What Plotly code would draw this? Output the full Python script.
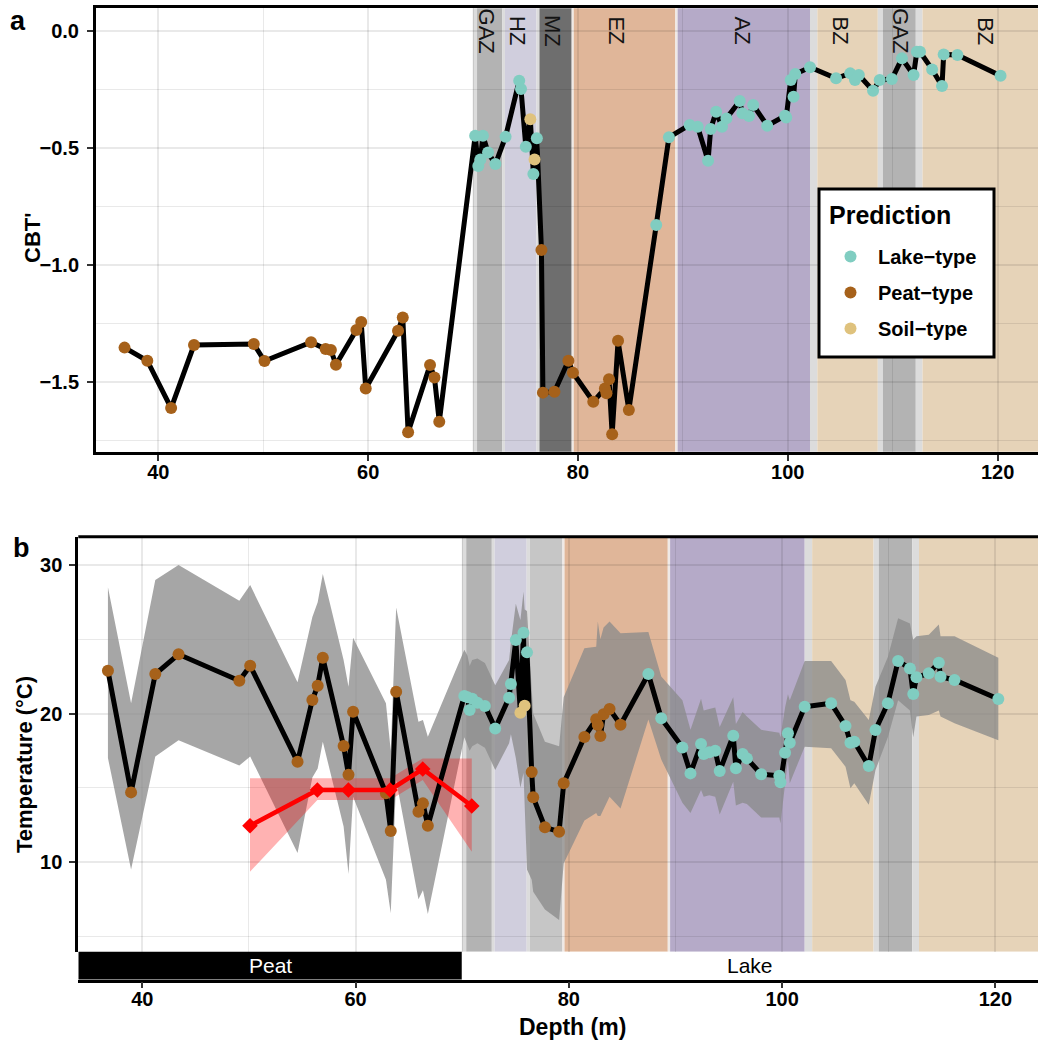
import plotly.graph_objects as go

# ---------------- data ----------------
depth = [36.78, 38.95, 41.22, 43.40, 49.10, 50.12, 54.56, 55.95, 56.45, 56.93,
         58.88, 59.34, 59.77, 62.85, 63.30, 63.81, 65.90, 66.32, 66.78,
         70.20, 70.50, 70.70, 70.94, 71.43, 72.13, 73.10, 74.40, 74.57, 75.03,
         75.46, 75.75, 75.86, 76.08, 76.52, 76.66, 77.76, 79.09, 79.52, 81.46,
         82.57, 82.72, 82.96, 83.26, 83.82, 84.85,
         87.46, 88.67, 90.65, 91.41, 92.40, 92.65, 93.17, 93.73, 94.15, 95.42,
         95.67, 96.30, 96.70, 98.04, 99.74, 99.85, 100.28, 100.55, 100.72, 102.12,
         104.60, 105.95, 106.41, 106.77, 108.13, 108.76, 109.92, 110.88, 111.99,
         112.30, 112.60, 113.76, 114.70, 114.86, 116.17, 120.28]

ptype = (["Peat-type"] * 19 +
         ["Lake-type"] * 10 + ["Soil-type", "Lake-type", "Soil-type", "Lake-type"] +
         ["Peat-type"] * 12 +
         ["Lake-type"] * 36)

cbt = [-1.352, -1.408, -1.610, -1.341, -1.337, -1.409, -1.329, -1.358, -1.362, -1.425,
       -1.277, -1.243, -1.526, -1.280, -1.223, -1.713, -1.426, -1.479, -1.668,
       -0.448, -0.577, -0.549, -0.448, -0.520, -0.569, -0.452, -0.213, -0.249, -0.495,
       -0.378, -0.611, -0.549, -0.459, -0.936, -1.544, -1.540, -1.408, -1.459, -1.583,
       -1.526, -1.547, -1.487, -1.722, -1.323, -1.618,
       -0.829, -0.455, -0.402, -0.410, -0.555, -0.419, -0.346, -0.410, -0.374, -0.300,
       -0.352, -0.364, -0.317, -0.405, -0.363, -0.370, -0.210, -0.282, -0.185, -0.156,
       -0.203, -0.182, -0.210, -0.189, -0.256, -0.210, -0.206, -0.118, -0.189,
       -0.090, -0.090, -0.165, -0.236, -0.101, -0.104, -0.192]

temp = [22.88, 14.69, 22.66, 23.99, 22.21, 23.22, 16.75, 20.91, 21.87, 23.76,
        17.81, 15.88, 20.12, 14.63, 12.09, 21.47, 13.39, 13.95, 12.44,
        21.18, 21.10, 20.24, 21.00, 20.73, 20.51, 19.00, 21.07, 21.99, 24.95,
        20.05, 25.44, 20.53, 24.12, 16.06, 14.36, 12.34, 12.04, 15.30, 18.42,
        19.61, 19.23, 18.48, 19.95, 20.30, 19.25,
        22.66, 19.68, 17.72, 15.97, 17.95, 17.27, 17.40, 17.49, 16.13, 18.51,
        16.31, 17.27, 16.98, 15.91, 15.81, 15.37, 17.36, 18.67, 18.03, 20.46,
        20.69, 19.16, 18.04, 18.10, 16.46, 18.89, 20.69, 23.54, 23.04,
        21.31, 22.44, 22.71, 23.42, 22.48, 22.26, 20.98]

temp_hi = [28.5, 20.7, 29.0, 30.0, 27.6, 28.65, 22.1, 26.5, 27.5, 29.4,
           23.6, 21.8, 25.1, 20.7, 17.5, 27.15, 19.45, 19.56, 18.44,
           24.3, 23.9, 23.2, 23.6, 23.7, 23.4, 21.9, 23.6, 24.8, 27.4,
           26.3, 28.2, 27.0, 26.9, 21.0, 20.0, 18.1, 17.8, 21.1, 24.4,
           24.5, 26.2, 25.0, 25.8, 26.2, 25.4,
           25.5, 22.5, 20.9, 18.9, 21.0, 20.2, 20.3, 20.4, 19.1, 21.1,
           19.3, 20.1, 19.8, 18.9, 18.7, 18.4, 20.4, 21.3, 20.9, 23.54,
           23.54, 22.26, 20.9, 20.8, 19.56, 21.8, 23.8, 26.41, 26.07,
           24.97, 25.2, 25.3, 26.0, 25.2, 25.2, 23.76]

temp_lo = [17.0, 9.5, 17.1, 18.2, 16.5, 17.1, 10.6, 15.7, 16.3, 18.1,
           12.4, 9.2, 14.4, 8.8, 6.55, 15.5, 7.5, 8.1, 6.5,
           18.4, 17.9, 17.5, 17.8, 18.0, 17.7, 16.2, 18.0, 18.6, 17.0,
           15.0, 16.0, 13.5, 9.5, 8.8, 8.0, 6.8, 6.1, 9.9, 12.8,
           13.3, 13.1, 13.1, 13.6, 14.4, 13.6,
           19.6, 16.9, 14.0, 13.3, 14.85, 14.4, 14.5, 14.4, 13.2, 15.4,
           13.8, 14.0, 13.9, 13.0, 13.0, 12.6, 15.1, 16.9, 15.3, 17.77,
           17.66, 16.42, 14.97, 15.3, 13.85, 16.2, 18.4, 20.9, 20.2,
           18.4, 19.8, 19.9, 20.2, 19.8, 19.35, 18.2]

red_depth = [50.10, 56.42, 59.33, 63.24, 66.30, 70.90]
red_temp = [12.44, 14.85, 14.85, 14.85, 16.26, 13.77]
red_hi = [15.64, 15.64, 15.64, 15.64, 16.98, 16.98]
red_lo = [9.35, 14.17, 14.17, 14.17, 15.52, 10.69]

band_start = [69.97, 70.38, 72.78, 73.04, 76.05, 76.33, 79.40, 79.60, 89.28, 89.50,
              102.12, 102.82, 108.58, 109.07, 112.20, 112.84]
band_end = [70.38, 72.78, 73.04, 76.05, 76.33, 79.40, 79.60, 89.28, 89.50, 102.12,
            102.82, 108.58, 109.07, 112.20, 112.84, 124.5]
band_kind = ["gap", "GAZ", "gap", "HZ", "gap", "MZ", "gapw", "EZ", "gapw", "AZ",
             "gap", "BZ", "gap", "GAZ", "gap", "BZ"]

zone_labels = ["GAZ", "HZ", "MZ", "EZ", "AZ", "BZ", "GAZ", "BZ"]
zone_label_depth = [71.25, 74.25, 77.6, 83.65, 95.65, 105.0, 110.75, 118.85]

lith_names = ["Peat", "Lake"]
lith_start = [34.0, 69.97]
lith_end = [69.97, 124.5]

type_order = ["Lake-type", "Peat-type", "Soil-type"]
type_legend = ["Lake\u2212type", "Peat\u2212type", "Soil\u2212type"]

# ---------------- styles ----------------
W, H = 1038, 1040
FONT = "Liberation Sans, Arial, Helvetica, sans-serif"
type_colors = {"Lake-type": "#80cdc1", "Peat-type": "#a6611a", "Soil-type": "#dfc27d"}
band_colors_a = {"gap": "#dcdcdc", "gapw": "#efe9e6",
                 "GAZ": "#b3b3b3", "HZ": "#d0cedd",
                 "MZ": "#6e6e6e", "EZ": "#e0b699",
                 "AZ": "#b5aac8", "BZ": "#e6d3b8"}
band_colors_b = dict(band_colors_a)
band_colors_b["MZ"] = "#c6c6c6"

XA = [34.06, 123.85]
XB = [34.0, 124.0]
YA = [-1.796, 0.0956]
YB = [3.96, 31.91]

def fx(p):
    return p / W

def fy(p):
    return 1 - p / H

fig = go.Figure()

# ---------------- panel a ----------------
fig.add_trace(go.Scatter(x=depth, y=cbt, mode="lines", line=dict(color="black", width=5),
                         showlegend=False, hoverinfo="skip", xaxis="x", yaxis="y"))
for t, lab in zip(type_order, type_legend):
    xs = [d for d, p in zip(depth, ptype) if p == t]
    ys = [v for v, p in zip(cbt, ptype) if p == t]
    fig.add_trace(go.Scatter(x=xs, y=ys, mode="markers", name=lab, legendgroup=t,
                             marker=dict(color=type_colors[t], size=12, line=dict(width=0)),
                             xaxis="x", yaxis="y"))

# ---------------- panel b ----------------
fig.add_trace(go.Scatter(x=depth + depth[::-1], y=temp_hi + temp_lo[::-1], fill="toself",
                         fillcolor="rgba(138,138,138,0.76)", line=dict(width=0), mode="lines",
                         showlegend=False, hoverinfo="skip", xaxis="x2", yaxis="y2"))
fig.add_trace(go.Scatter(x=red_depth + red_depth[::-1], y=red_hi + red_lo[::-1], fill="toself",
                         fillcolor="rgba(255,0,0,0.30)", line=dict(width=0), mode="lines",
                         showlegend=False, hoverinfo="skip", xaxis="x2", yaxis="y2"))
fig.add_trace(go.Scatter(x=depth, y=temp, mode="lines", line=dict(color="black", width=5),
                         showlegend=False, hoverinfo="skip", xaxis="x2", yaxis="y2"))
for t in type_order:
    xs = [d for d, p in zip(depth, ptype) if p == t]
    ys = [v for v, p in zip(temp, ptype) if p == t]
    fig.add_trace(go.Scatter(x=xs, y=ys, mode="markers", showlegend=False, legendgroup=t,
                             marker=dict(color=type_colors[t], size=12, line=dict(width=0)),
                             xaxis="x2", yaxis="y2"))
fig.add_trace(go.Scatter(x=red_depth, y=red_temp, mode="lines+markers",
                         line=dict(color="#ff0000", width=4.5),
                         marker=dict(symbol="diamond", size=12, color="#ff0000"),
                         showlegend=False, hoverinfo="skip", xaxis="x2", yaxis="y2"))
# invisible anchor trace so the lithology strip axis is drawn
fig.add_trace(go.Scatter(x=[XB[0]], y=[-5], mode="markers", marker=dict(opacity=0),
                         showlegend=False, hoverinfo="skip", xaxis="x3", yaxis="y3"))

# ---------------- bands ----------------
shapes = []
for s, e, k in zip(band_start, band_end, band_kind):
    shapes.append(dict(type="rect", xref="x", yref="paper", x0=s, x1=min(e, XA[1]),
                       y0=fy(451.7), y1=fy(8.3), fillcolor=band_colors_a[k],
                       line=dict(width=0), layer="below"))
    shapes.append(dict(type="rect", xref="x2", yref="paper", x0=s, x1=min(e, XB[1]),
                       y0=fy(951.7), y1=fy(536.7), fillcolor=band_colors_b[k],
                       line=dict(width=0), layer="below"))
# lithology strip
for s, e, n in zip(lith_start, lith_end, lith_names):
    shapes.append(dict(type="rect", xref="x2", yref="paper", x0=max(s, XB[0]), x1=min(e, XB[1]),
                       y0=fy(979.5), y1=fy(951.7), fillcolor="black" if n == "Peat" else "white",
                       line=dict(width=0), layer="below"))
# top border of panel b
shapes.append(dict(type="line", xref="paper", yref="paper", x0=fx(78.3), x1=1.0,
                   y0=fy(536.7), y1=fy(536.7), line=dict(color="black", width=3)))
# legend box
shapes.append(dict(type="rect", xref="paper", yref="paper", x0=fx(819), x1=fx(994),
                   y0=fy(357), y1=fy(189), fillcolor="white",
                   line=dict(color="black", width=3), layer="above"))

annotations = []
for lab, d in zip(zone_labels, zone_label_depth):
    annotations.append(dict(x=d, y=0, xref="x", yref="y", text=lab, showarrow=False,
                            textangle=90, xanchor="center", yanchor="middle",
                            font=dict(family=FONT, size=22, color="#141414")))
for s, e, n in zip(lith_start, lith_end, lith_names):
    annotations.append(dict(x=(max(s, XB[0]) + min(e, XB[1])) / 2, y=fy(965.6), xref="x2",
                            yref="paper", text=n, showarrow=False,
                            xanchor="center", yanchor="middle",
                            font=dict(family=FONT, size=21,
                                      color="white" if n == "Peat" else "black")))

def pa(x, y, text, size, angle=0):
    return dict(x=fx(x), y=fy(y), xref="paper", yref="paper", text=text, showarrow=False,
                textangle=angle, xanchor="center", yanchor="middle",
                font=dict(family=FONT, size=size, color="black", weight="bold"))

annotations += [
    pa(18, 21, "a", 27),
    pa(21, 548, "b", 27),
    pa(33, 238, "CBT'", 22, -90),
    pa(24, 765, "Temperature (\u00b0C)", 22, -90),
    pa(572, 1027, "Depth (m)", 23),
    pa(890, 215, "Prediction", 25),
]

tickfont = dict(family=FONT, size=20, color="black", weight="bold")
grid = "rgba(0,0,0,0.085)"
minor_x = dict(dtick=10, tick0=0, showgrid=True, gridcolor=grid, gridwidth=1, ticks="")

fig.update_layout(
    width=W, height=H, margin=dict(l=0, r=0, t=0, b=0),
    paper_bgcolor="white", plot_bgcolor="rgba(0,0,0,0)",
    font=dict(family=FONT, color="black"),
    shapes=shapes, annotations=annotations,
    xaxis=dict(domain=[fx(96), 1.0], anchor="y", range=XA, dtick=20, tick0=0,
               showgrid=True, gridcolor=grid, gridwidth=1.5, minor=minor_x,
               showline=True, linecolor="black", linewidth=3, mirror=True,
               ticks="outside", ticklen=6, tickwidth=1.5, tickcolor="#333333",
               ticklabelstandoff=-6, tickfont=tickfont, zeroline=False),
    yaxis=dict(domain=[fy(451.7), fy(8.3)], anchor="x", range=YA, dtick=0.5, tick0=0,
               tickformat=".1f", showgrid=True, gridcolor=grid, gridwidth=1.5,
               minor=dict(dtick=0.25, tick0=0, showgrid=True, gridcolor=grid, gridwidth=1, ticks=""),
               showline=True, linecolor="black", linewidth=3, mirror=False,
               ticks="outside", ticklen=6, tickwidth=1.5, tickcolor="#333333",
               ticklabelstandoff=4, tickfont=tickfont, zeroline=False),
    xaxis2=dict(domain=[fx(78.3), 1.0], anchor="y2", range=XB, dtick=20, tick0=0,
                showgrid=True, gridcolor=grid, gridwidth=1.5, minor=minor_x,
                showline=False, ticks="", showticklabels=False, zeroline=False),
    yaxis2=dict(domain=[fy(951.7), fy(536.7)], anchor="x2", range=YB, dtick=10, tick0=0,
                showgrid=True, gridcolor=grid, gridwidth=1.5,
                minor=dict(dtick=5, tick0=0, showgrid=True, gridcolor=grid, gridwidth=1, ticks=""),
                showline=True, linecolor="black", linewidth=3,
                ticks="outside", ticklen=6, tickwidth=1.5, tickcolor="#333333",
                ticklabelstandoff=3, tickfont=tickfont, zeroline=False),
    xaxis3=dict(domain=[fx(78.3), 1.0], anchor="y3", range=XB, dtick=20, tick0=0,
                showgrid=False, showline=True, linecolor="black", linewidth=2.5,
                ticks="outside", ticklen=6, tickwidth=1.5, tickcolor="#333333",
                ticklabelstandoff=-6, tickfont=tickfont, zeroline=False),
    yaxis3=dict(domain=[fy(979.5), fy(951.7)], anchor="x3", range=[0, 1], showgrid=False,
                showline=False, ticks="", showticklabels=False, zeroline=False, fixedrange=True),
    legend=dict(font=dict(family=FONT, size=20, color="black", weight="bold"),
                x=fx(823), y=fy(237), xanchor="left", yanchor="top",
                borderwidth=0, bgcolor="rgba(0,0,0,0)",
                tracegroupgap=7, traceorder="grouped", itemsizing="trace",
                itemwidth=45),
    showlegend=True,
)

fig.write_html("out.html")
